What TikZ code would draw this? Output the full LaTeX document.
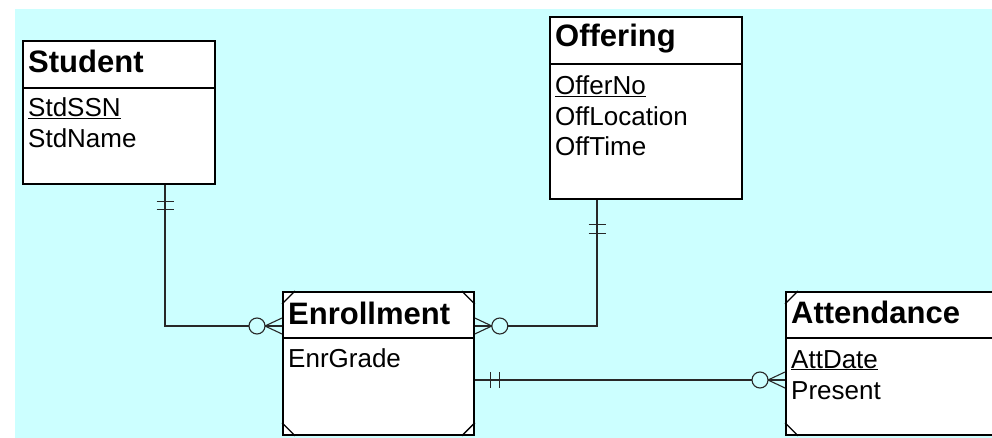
\documentclass[tikz,border=0pt]{standalone}
\usepackage{fontspec}
\setmainfont{Liberation Sans}
\usetikzlibrary{calc}
\definecolor{canvas}{RGB}{204,255,255}
\definecolor{linkgray}{RGB}{40,40,40}
% primary-key attribute: text with a solid underline
\newcommand\keyattr[1]{\setbox0\hbox{#1}\rlap{\rule[-2.4pt]{\wd0}{1.3pt}}\box0}

\begin{document}
\begin{tikzpicture}[x=1pt,y=-1pt,
  entity/.style={draw=black, line width=1.8pt, fill=white, rectangle, inner sep=0pt, anchor=north west},
  sepline/.style={draw=black, line width=1.8pt},
  cornermark/.style={draw=black, line width=1.3pt},
  etitle/.style={anchor=base west, inner sep=0pt, font=\fontsize{31}{36}\selectfont\bfseries},
  attr/.style={anchor=base west, inner sep=0pt, font=\fontsize{26}{30}\selectfont},
  link/.style={draw=linkgray, line width=1.1pt},
  ring/.style={draw=linkgray, line width=1.1pt, fill=canvas},
]
\useasboundingbox (0,0) rectangle (992,438);
\clip (0,0) rectangle (992,438);
\fill[canvas] (15,9) rectangle (992,438);

% entity boxes
\node[entity, minimum width=192pt, minimum height=143pt] (student) at (22,40) {};
\node[entity, minimum width=192pt, minimum height=182pt] (offering) at (549,16) {};
\node[entity, minimum width=191pt, minimum height=143pt] (enroll) at (282,291) {};
\node[entity, minimum width=225pt, minimum height=143pt] (attend) at (785,291) {};

% header separators
\draw[sepline] (student.north west) ++(0,48) -- ++(192,0);
\draw[sepline] (offering.north west) ++(0,48) -- ++(192,0);
\draw[sepline] (enroll.north west) ++(0,47) -- ++(191,0);
\draw[sepline] (attend.north west) ++(0,47) -- ++(225,0);

% corner marks of the dependent entities
\draw[cornermark] (enroll.north west) ++(0,13) -- ++(13,-13);
\draw[cornermark] (enroll.north east) ++(-13,0) -- ++(13,13);
\draw[cornermark] (enroll.south west) ++(0,-13) -- ++(13,13);
\draw[cornermark] (enroll.south east) ++(-13,0) -- ++(13,-13);
\draw[cornermark] (attend.north west) ++(0,13) -- ++(13,-13);
\draw[cornermark] (attend.south west) ++(0,-13) -- ++(13,13);

% titles and attributes
\node[etitle] (studentT) at (28,73) {Student};
\node[attr] (stdssn) at (28,117) {\keyattr{StdSSN}};
\node[attr] (stdname) at (28,148) {StdName};

\node[etitle] (offeringT) at (555,47) {Offering};
\node[attr] (offerno) at (555,95) {\keyattr{OfferNo}};
\node[attr] (offloc) at (555,126) {OffLocation};
\node[attr] (offtime) at (555,156) {OffTime};

\node[etitle] (enrollT) at (288,324) {Enrollment};
\node[attr] (enrgrade) at (288,367) {EnrGrade};

\node[etitle] (attendT) at (791,323) {Attendance};
\node[attr] (attdate) at (791,368) {\keyattr{AttDate}};
\node[attr] (present) at (791,399) {Present};

% connector end points
\coordinate (s1) at ($(student.south west)+(143,0)$);
\coordinate (e1) at ($(enroll.north west)+(0,35)$);
\coordinate (o1) at ($(offering.south west)+(48,0)$);
\coordinate (e2) at ($(enroll.north east)+(0,35)$);
\coordinate (e3) at ($(enroll.north east)+(0,89)$);
\coordinate (a1) at (attend.west |- e3);

% Student -- Enrollment
\draw[link] (s1) |- (e1);
\draw[link] ($(s1)+(-8.5,17)$) -- ++(17,0);
\draw[link] ($(s1)+(-8.5,25)$) -- ++(17,0);
\draw[ring] ($(e1)+(-25,0)$) circle (8);
\draw[link] ($(e1)+(-17,0)$) -- ($(e1)+(0,-8)$);
\draw[link] ($(e1)+(-17,0)$) -- ($(e1)+(0,8)$);

% Offering -- Enrollment
\draw[link] (o1) |- (e2);
\draw[link] ($(o1)+(-8.5,25)$) -- ++(17,0);
\draw[link] ($(o1)+(-8.5,34)$) -- ++(17,0);
\draw[ring] ($(e2)+(25,0)$) circle (8);
\draw[link] ($(e2)+(17,0)$) -- ($(e2)+(0,-8)$);
\draw[link] ($(e2)+(17,0)$) -- ($(e2)+(0,8)$);

% Enrollment -- Attendance
\draw[link] (e3) -- (a1);
\draw[link] ($(e3)+(16,-8)$) -- ++(0,16);
\draw[link] ($(e3)+(25,-8)$) -- ++(0,16);
\draw[ring] ($(a1)+(-25,0)$) circle (8);
\draw[link] ($(a1)+(-17,0)$) -- ($(a1)+(0,-8)$);
\draw[link] ($(a1)+(-17,0)$) -- ($(a1)+(0,8)$);
\end{tikzpicture}
\end{document}
